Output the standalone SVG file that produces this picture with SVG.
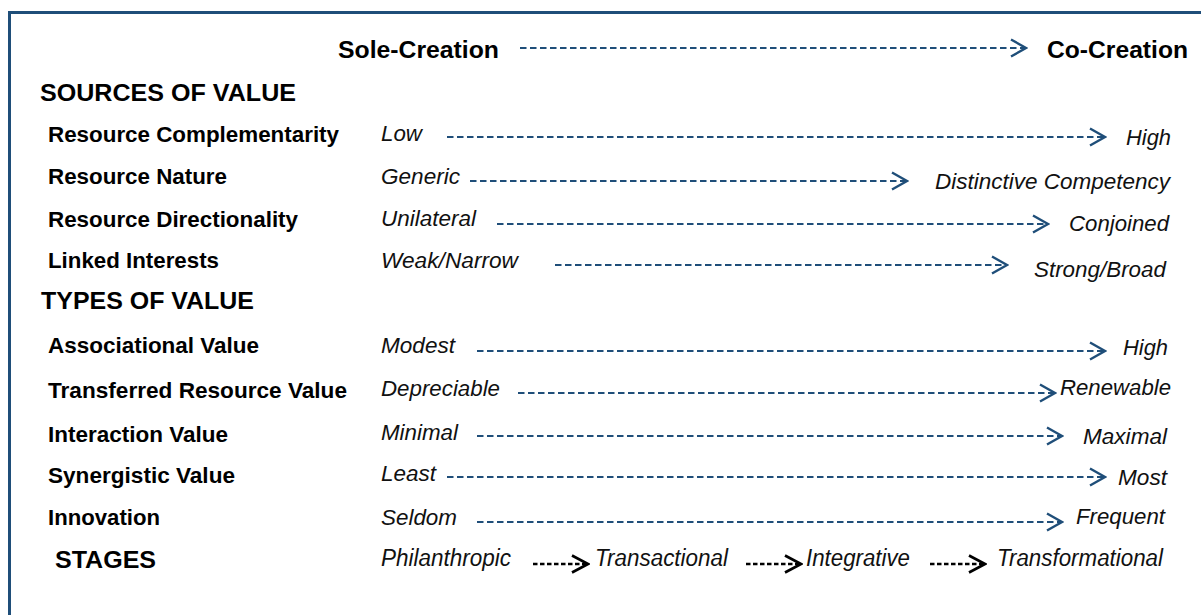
<svg xmlns="http://www.w3.org/2000/svg" width="1201" height="615" viewBox="0 0 1201 615">
<style>
.b{font-family:"Liberation Sans",Arial,sans-serif;font-weight:bold;fill:#000;}
.h{font-size:24px;}
.l{font-size:22px;}
.i{font-family:"Liberation Sans",Arial,sans-serif;font-style:italic;font-size:22px;fill:#111;}
.s{font-family:"Liberation Sans",Arial,sans-serif;font-style:italic;font-size:23px;fill:#111;}
.c{fill:none;stroke:#1f4e79;stroke-width:2.2;stroke-dasharray:6.5 3.5;}
.k{fill:none;stroke:#000;stroke-width:2.6;stroke-dasharray:4.5 2.5;}
</style>
<defs>
<marker id="ab" viewBox="0 0 18 20" refX="16.5" refY="10" markerWidth="18" markerHeight="20" markerUnits="userSpaceOnUse" orient="auto">
<path d="M1.5,1.5 L16.5,10 L1.5,18.5" fill="none" stroke="#1f4e79" stroke-width="2.4"/>
</marker>
<marker id="ak" viewBox="0 0 20 20" refX="18" refY="10" markerWidth="20" markerHeight="20" markerUnits="userSpaceOnUse" orient="auto">
<path d="M2,1.5 L18,10 L2,18.5" fill="none" stroke="#000" stroke-width="2.6"/>
</marker>
</defs>
<rect x="0" y="0" width="1201" height="615" fill="#fff"/>
<rect x="9.5" y="12.5" width="1220" height="700" fill="none" stroke="#1f4e79" stroke-width="3"/>

<g id="header">
<text class="b h" x="338" y="58" textLength="161" lengthAdjust="spacingAndGlyphs">Sole-Creation</text>
<text class="b h" x="1047" y="58" textLength="141" lengthAdjust="spacingAndGlyphs">Co-Creation</text>
</g>
<g id="sources-header"><text class="b h" x="40" y="101" textLength="256" lengthAdjust="spacingAndGlyphs">SOURCES OF VALUE</text></g>
<g id="types-header"><text class="b h" x="41" y="309" textLength="213" lengthAdjust="spacingAndGlyphs">TYPES OF VALUE</text></g>

<g id="row-complementarity">
<text class="b l" x="48" y="142" textLength="291" lengthAdjust="spacingAndGlyphs">Resource Complementarity</text>
<text class="i" x="381" y="141" textLength="41" lengthAdjust="spacingAndGlyphs">Low</text>
<text class="i" x="1126" y="145" textLength="45" lengthAdjust="spacingAndGlyphs">High</text>
</g>
<g id="row-nature">
<text class="b l" x="48" y="184" textLength="179" lengthAdjust="spacingAndGlyphs">Resource Nature</text>
<text class="i" x="381" y="184" textLength="79" lengthAdjust="spacingAndGlyphs">Generic</text>
<text class="i" x="935" y="189" textLength="235" lengthAdjust="spacingAndGlyphs">Distinctive Competency</text>
</g>
<g id="row-directionality">
<text class="b l" x="48" y="227" textLength="250" lengthAdjust="spacingAndGlyphs">Resource Directionality</text>
<text class="i" x="381" y="226" textLength="95" lengthAdjust="spacingAndGlyphs">Unilateral</text>
<text class="i" x="1069" y="231" textLength="100" lengthAdjust="spacingAndGlyphs">Conjoined</text>
</g>
<g id="row-linked">
<text class="b l" x="48" y="268" textLength="171" lengthAdjust="spacingAndGlyphs">Linked Interests</text>
<text class="i" x="381" y="268" textLength="137" lengthAdjust="spacingAndGlyphs">Weak/Narrow</text>
<text class="i" x="1034" y="277" textLength="132" lengthAdjust="spacingAndGlyphs">Strong/Broad</text>
</g>
<g id="row-associational">
<text class="b l" x="48" y="353" textLength="211" lengthAdjust="spacingAndGlyphs">Associational Value</text>
<text class="i" x="381" y="353" textLength="74" lengthAdjust="spacingAndGlyphs">Modest</text>
<text class="i" x="1123" y="355" textLength="45" lengthAdjust="spacingAndGlyphs">High</text>
</g>
<g id="row-transferred">
<text class="b l" x="48" y="398" textLength="299" lengthAdjust="spacingAndGlyphs">Transferred Resource Value</text>
<text class="i" x="381" y="396" textLength="119" lengthAdjust="spacingAndGlyphs">Depreciable</text>
<text class="i" x="1060" y="395" textLength="111" lengthAdjust="spacingAndGlyphs">Renewable</text>
</g>
<g id="row-interaction">
<text class="b l" x="48" y="442" textLength="180" lengthAdjust="spacingAndGlyphs">Interaction Value</text>
<text class="i" x="381" y="440" textLength="77" lengthAdjust="spacingAndGlyphs">Minimal</text>
<text class="i" x="1083" y="444" textLength="84" lengthAdjust="spacingAndGlyphs">Maximal</text>
</g>
<g id="row-synergistic">
<text class="b l" x="48" y="483" textLength="187" lengthAdjust="spacingAndGlyphs">Synergistic Value</text>
<text class="i" x="381" y="481" textLength="55" lengthAdjust="spacingAndGlyphs">Least</text>
<text class="i" x="1118" y="485" textLength="49" lengthAdjust="spacingAndGlyphs">Most</text>
</g>
<g id="row-innovation">
<text class="b l" x="48" y="525" textLength="112" lengthAdjust="spacingAndGlyphs">Innovation</text>
<text class="i" x="381" y="525" textLength="76" lengthAdjust="spacingAndGlyphs">Seldom</text>
<text class="i" x="1076" y="524" textLength="89" lengthAdjust="spacingAndGlyphs">Frequent</text>
</g>
<g id="row-stages">
<text class="b h" x="55" y="568" textLength="101" lengthAdjust="spacingAndGlyphs">STAGES</text>
<text class="s" x="381" y="566" textLength="130" lengthAdjust="spacingAndGlyphs">Philanthropic</text>
<text class="s" x="595" y="566" textLength="133" lengthAdjust="spacingAndGlyphs">Transactional</text>
<text class="s" x="806" y="566" textLength="104" lengthAdjust="spacingAndGlyphs">Integrative</text>
<text class="s" x="997" y="566" textLength="166" lengthAdjust="spacingAndGlyphs">Transformational</text>
</g>

<g id="connectors">
<line class="c" x1="520" y1="48" x2="1026" y2="48" marker-end="url(#ab)"/>
<line class="c" x1="447" y1="137" x2="1105" y2="137" marker-end="url(#ab)"/>
<line class="c" x1="470" y1="181" x2="907" y2="181" marker-end="url(#ab)"/>
<line class="c" x1="497" y1="224" x2="1048" y2="224" marker-end="url(#ab)"/>
<line class="c" x1="555" y1="265" x2="1007" y2="265" marker-end="url(#ab)"/>
<line class="c" x1="477" y1="351" x2="1105" y2="351" marker-end="url(#ab)"/>
<line class="c" x1="518" y1="393" x2="1055" y2="393" marker-end="url(#ab)"/>
<line class="c" x1="477" y1="436" x2="1062" y2="436" marker-end="url(#ab)"/>
<line class="c" x1="447" y1="477" x2="1105" y2="477" marker-end="url(#ab)"/>
<line class="c" x1="477" y1="522" x2="1062" y2="522" marker-end="url(#ab)"/>
<line class="k" x1="533" y1="564" x2="588" y2="564" marker-end="url(#ak)"/>
<line class="k" x1="746" y1="564" x2="801" y2="564" marker-end="url(#ak)"/>
<line class="k" x1="930" y1="564" x2="985" y2="564" marker-end="url(#ak)"/>
</g>
</svg>
